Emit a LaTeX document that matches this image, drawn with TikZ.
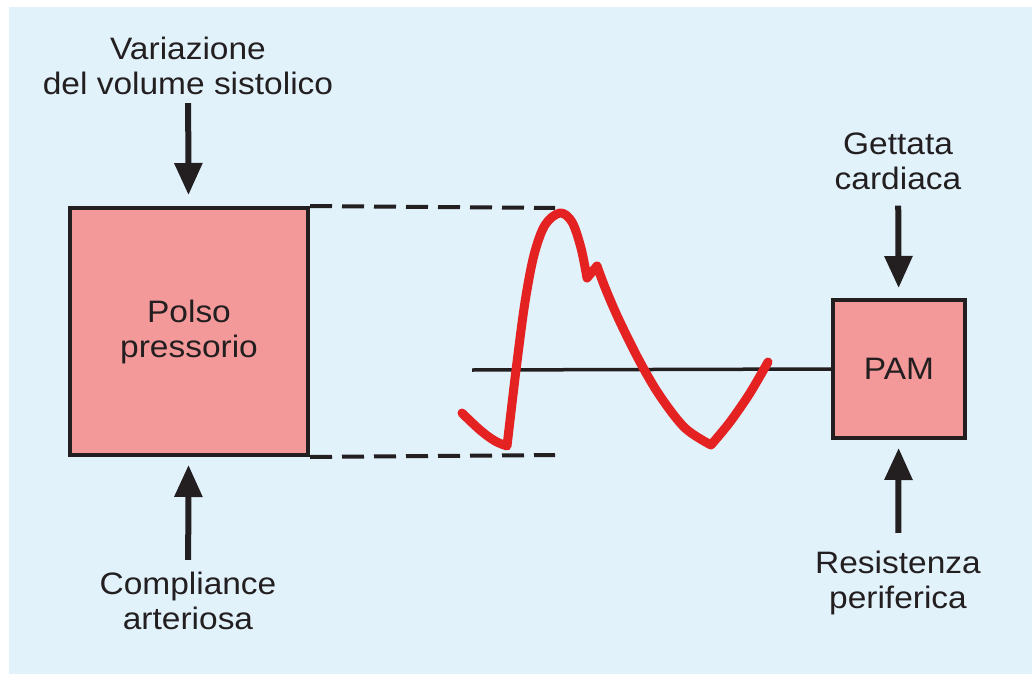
\documentclass[tikz,border=0pt]{standalone}
\usepackage{fontspec}
\setmainfont[FakeStretch=1.08]{Liberation Sans}
\usetikzlibrary{arrows.meta}
\definecolor{bgblue}{HTML}{E1F2FB}
\definecolor{salmon}{HTML}{F4999A}
\definecolor{ink}{HTML}{231F20}
\definecolor{wavered}{HTML}{E52222}
\tikzset{
  lbl/.style={inner sep=0pt, align=center, text=ink, font=\fontsize{31}{35}\selectfont},
  boxnode/.style={draw=ink, line width=4pt, fill=salmon, inner sep=0pt, align=center, text=ink, font=\fontsize{31}{35}\selectfont},
  arr/.style={draw=ink, line width=6pt, -{Triangle[length=32pt,width=27pt]}},
  dashline/.style={draw=ink, line width=4pt, dash pattern=on 22pt off 10pt},
  baseline/.style={draw=ink, line width=3.5pt},
  wave/.style={draw=wavered, line width=9pt, line join=round, line cap=round}
}
\begin{document}
\begin{tikzpicture}[x=1pt,y=-1pt]
\useasboundingbox (0,0) rectangle (1032,674);
\fill[bgblue] (9,7) rectangle (1032,674);
% boxes
\node[boxnode, minimum width=238pt, minimum height=247pt] (pp) at (189,331.5) {Polso\\pressorio};
\node[boxnode, minimum width=132pt, minimum height=138pt] (pam) at (899,369) {PAM};
% labels
\node[lbl] (vvs) at (188,66) {Variazione\\del volume sistolico};
\node[lbl] (ca) at (188,601) {Compliance\\arteriosa};
\node[lbl] (gc) at (898,161) {Gettata\\cardiaca};
\node[lbl] (rp) at (898,583) {Resistenza\\periferica};
% arrows
\draw[arr, shorten <=8pt, shorten >=11pt] (vvs) -- (pp);
\draw[arr, shorten <=12pt, shorten >=8pt] (ca) -- (pp);
\draw[arr, shorten <=16pt, shorten >=10pt] (gc) -- (pam);
\draw[arr, shorten <=18pt, shorten >=8pt] (rp) -- (pam);
% dashed projections
\coordinate (dtop) at (555,208);
\coordinate (dbot) at (555,455);
\draw[dashline] (pp.north east) -- (dtop);
\draw[dashline] (pp.south east) -- (dbot);
% mean line
\coordinate (mstart) at (472,370);
\draw[baseline] (mstart) -- (pam.west);
% waveform
\draw[wave] plot[smooth, tension=0.6] coordinates {(462,413) (480,430) (495,441) (507,446)}
  -- plot[smooth, tension=0.55] coordinates {(507,446) (511,412) (517,362) (525,302) (534,255) (545,225) (560,213) (572,222) (581,248) (587,278)}
  -- plot[smooth, tension=0.55] coordinates {(597,266) (606,290) (620,322) (640,362) (660,396) (685,428) (711,445)}
  -- plot[smooth, tension=0.5] coordinates {(711,445) (730,422) (750,393) (768,362)};
\end{tikzpicture}
\end{document}
